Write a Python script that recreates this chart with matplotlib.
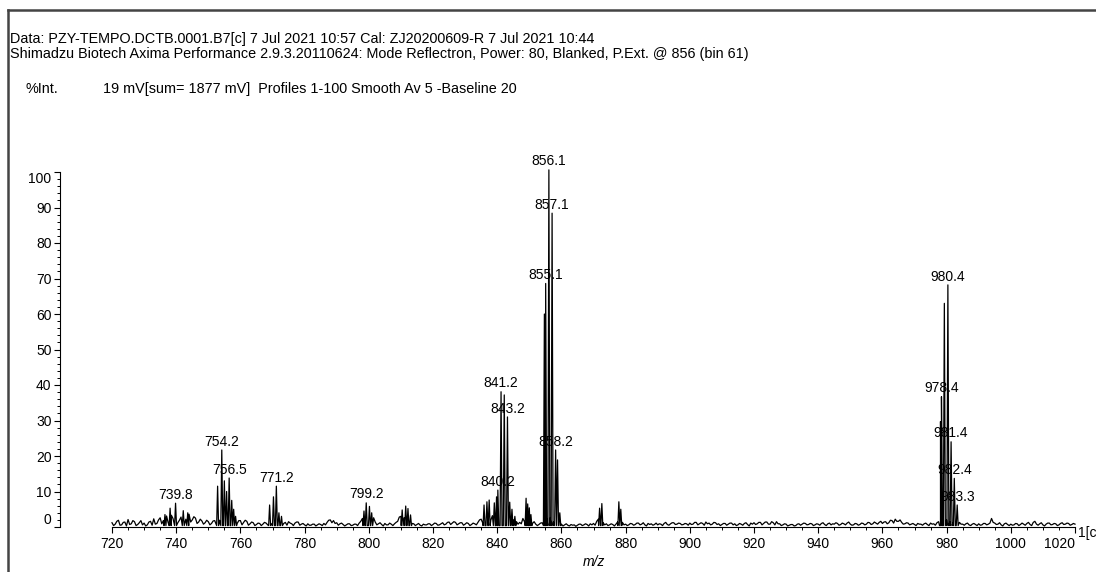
import matplotlib
matplotlib.use('Agg')
import matplotlib.pyplot as plt
from matplotlib.ticker import MultipleLocator
from matplotlib.lines import Line2D
import numpy as np

plt.rcParams['font.family'] = ['Liberation Sans', 'DejaVu Sans']
plt.rcParams['font.size'] = 10

# baseline noise, every 0.5 Da from 720 to 1020 (%Int.), one row per 10 Da
base_mz = np.arange(720, 1020.5, 0.5)
base_int = np.array([
    1.2, 0.4, 0.8, 1.6, 1.9, 0.5, 0.6, 1.3, 1.4, 0.3, 2.1, 0.7, 0.9, 1.8, 1.5, 0.4, 0.7, 1.2, 1.8, 0.6,  # 720
    1.1, 0.3, 0.6, 1.4, 1.6, 0.5, 2.3, 0.8, 1.0, 2.0, 2.6, 0.9, 1.8, 2.7, 3.1, 1.2, 2.0, 3.3, 2.4, 1.1,  # 730
    3.0, 1.2, 1.9, 2.8, 3.4, 1.5, 2.2, 3.9, 3.6, 1.4, 2.0, 2.9, 2.5, 1.0, 1.4, 2.2, 1.7, 0.8, 1.2, 1.9,  # 740
    1.5, 0.6, 1.0, 1.7, 1.8, 0.7, 1.3, 1.9, 1.1, 0.8, 1.4, 2.0, 1.6, 0.9, 1.9, 2.4, 1.4, 0.7, 1.0, 1.8,  # 750
    1.8, 0.6, 1.3, 1.9, 1.6, 0.5, 0.9, 1.4, 1.2, 0.4, 0.7, 1.1, 1.0, 0.4, 0.8, 1.3, 1.1, 0.6, 1.6, 1.0,  # 760
    1.4, 0.6, 1.2, 2.1, 2.0, 0.8, 1.7, 1.0, 1.3, 0.5, 1.5, 1.1, 0.9, 0.4, 1.1, 1.4, 1.4, 0.5, 0.8, 1.0,  # 770
    0.6, 0.3, 0.9, 0.5, 0.5, 0.8, 0.8, 0.3, 0.6, 0.9, 0.7, 0.4, 1.0, 0.6, 1.3, 1.9, 2.0, 1.2, 1.8, 1.0,  # 780
    1.2, 0.5, 0.9, 1.1, 0.7, 0.3, 0.6, 0.9, 0.9, 0.4, 0.5, 0.8, 0.8, 0.4, 1.1, 1.6, 2.4, 1.7, 3.0, 2.2,  # 790
    2.8, 1.5, 2.1, 2.6, 1.4, 0.6, 0.9, 1.2, 0.7, 0.3, 1.0, 0.6, 0.6, 1.1, 0.8, 0.4, 0.9, 1.3, 1.6, 2.8,  # 800
    3.0, 2.1, 2.6, 3.4, 2.8, 1.9, 1.7, 1.0, 0.9, 0.4, 0.7, 1.0, 0.5, 0.3, 0.8, 0.6, 0.6, 0.9, 0.9, 0.4,  # 810
    0.7, 1.1, 1.0, 0.5, 0.6, 0.9, 1.2, 0.6, 0.8, 1.3, 1.4, 0.7, 1.1, 1.5, 1.3, 0.6, 0.9, 1.2, 1.2, 0.5,  # 820
    0.8, 1.2, 1.0, 0.4, 0.7, 1.1, 0.9, 0.6, 1.3, 2.0, 2.2, 1.1, 3.0, 3.8, 2.5, 1.6, 1.9, 3.2, 2.8, 1.4,  # 830
    2.0, 3.5, 3.0, 2.1, 2.5, 3.4, 2.2, 1.5, 2.9, 2.4, 2.0, 1.2, 1.5, 0.8, 1.3, 0.9, 2.4, 1.5, 3.0, 2.1,  # 840
    1.6, 0.9, 1.0, 1.5, 0.8, 0.4, 0.7, 1.1, 1.2, 1.8, 1.5, 2.2, 1.8, 2.5, 2.0, 1.4, 1.5, 0.9, 1.2, 0.6,  # 850
    0.8, 0.3, 0.6, 0.9, 0.5, 0.3, 0.7, 0.5, 0.6, 0.2, 0.5, 0.8, 0.8, 0.4, 0.6, 0.9, 0.7, 0.3, 0.9, 0.6,  # 860
    1.0, 0.5, 1.6, 2.2, 1.4, 0.8, 1.2, 0.6, 0.9, 0.4, 0.6, 0.9, 0.7, 0.3, 0.8, 1.4, 1.5, 2.3, 1.3, 0.6,  # 870
    0.8, 0.4, 0.6, 1.0, 0.9, 0.5, 0.7, 1.1, 1.1, 0.6, 0.8, 1.2, 0.6, 0.3, 1.0, 0.7, 0.9, 0.5, 0.7, 1.1,  # 880
    0.6, 0.9, 0.8, 0.4, 1.0, 1.3, 0.7, 0.5, 0.9, 1.2, 1.2, 0.7, 0.8, 1.1, 1.0, 0.6, 0.7, 1.0, 0.9, 0.5,  # 890
    1.1, 0.7, 0.8, 1.3, 1.3, 0.6, 0.9, 1.2, 1.0, 0.5, 1.4, 0.9, 1.1, 0.6, 0.8, 1.3, 1.2, 0.7, 0.9, 0.4,  # 900
    0.7, 1.0, 1.0, 0.5, 0.8, 1.1, 1.1, 0.6, 0.9, 0.4, 0.6, 1.0, 0.8, 0.5, 1.0, 1.2, 0.7, 0.3, 1.1, 0.8,  # 910
    1.2, 0.7, 0.9, 1.3, 1.3, 0.6, 1.0, 1.4, 1.4, 0.8, 0.8, 1.5, 1.2, 0.6, 1.5, 0.9, 0.9, 0.4, 0.6, 0.9,  # 920
    0.8, 0.3, 0.5, 0.7, 0.7, 0.3, 0.4, 0.8, 0.9, 0.5, 0.8, 1.1, 1.0, 0.6, 0.7, 1.0, 0.9, 0.4, 0.6, 0.9,  # 930
    0.8, 0.5, 1.0, 1.2, 0.7, 0.4, 0.9, 1.1, 0.6, 0.9, 0.8, 1.2, 1.0, 0.5, 0.7, 1.1, 0.9, 0.6, 1.1, 1.4,  # 940
    0.8, 0.5, 0.6, 1.0, 0.9, 0.5, 0.7, 1.1, 1.0, 0.6, 0.8, 1.3, 1.2, 0.7, 0.9, 1.4, 1.1, 0.8, 1.3, 1.6,  # 950
    1.0, 1.4, 1.5, 0.9, 1.2, 1.9, 1.8, 1.1, 2.2, 1.6, 1.6, 2.0, 1.3, 0.8, 0.9, 1.2, 1.1, 0.6, 0.8, 1.0,  # 960
    0.7, 0.4, 1.0, 0.8, 0.8, 0.5, 0.9, 1.1, 0.7, 0.4, 1.1, 0.8, 0.9, 0.5, 1.2, 1.5, 1.5, 0.9, 2.0, 1.4,  # 970
    2.0, 1.3, 1.5, 0.9, 1.2, 0.7, 1.0, 1.4, 1.3, 0.8, 0.8, 0.5, 0.9, 1.1, 0.6, 0.4, 0.8, 1.0, 0.7, 0.4,  # 980
    0.9, 0.5, 0.6, 1.0, 1.0, 0.6, 0.8, 1.1, 2.4, 1.3, 1.1, 0.7, 0.8, 1.2, 0.6, 0.3, 0.9, 1.1, 0.7, 0.4,  # 990
    0.8, 0.5, 0.6, 1.0, 0.9, 0.4, 0.7, 1.1, 0.8, 0.5, 1.0, 1.3, 0.7, 0.4, 1.3, 1.6, 0.8, 0.5, 0.9, 1.2,  # 1000
    0.6, 0.3, 0.8, 1.1, 1.1, 0.6, 0.7, 1.0, 0.9, 0.4, 0.6, 1.0, 1.2, 0.7, 0.8, 1.1, 1.0, 0.5, 0.7, 1.0,  # 1010
    0.8,
])

# labelled peaks
lab_mz = [739.8, 754.2, 756.5, 771.2, 799.2, 840.2, 841.2, 843.2,
          855.1, 856.1, 857.1, 858.2, 978.4, 980.4, 981.4, 982.4, 983.3]
lab_int = [6.7, 21.7, 13.8, 11.5, 6.8, 10.4, 38.1, 31.0,
           68.6, 100.6, 88.4, 21.7, 36.7, 68.2, 24.0, 13.7, 6.2]

# other peaks in the clusters
pk_mz = [736.5, 738.1, 742.2, 743.6,
         752.9, 755.0, 755.7, 757.3, 757.9, 758.5,
         769.1, 770.3, 772.0, 772.8,
         798.5, 800.2, 800.9,
         810.4, 811.5, 812.2, 813.0,
         835.9, 836.8, 837.5, 839.1, 839.8,
         842.2, 843.9, 844.6, 845.5,
         849.0, 849.5, 850.0, 850.5,
         854.7, 858.8, 859.5,
         871.9, 872.6, 877.9, 878.5,
         978.1, 979.3]
pk_int = [3.5, 5.3, 4.6, 4.0,
          11.5, 13.0, 10.0, 7.5, 5.0, 3.0,
          6.2, 8.5, 4.0, 3.0,
          4.5, 5.8, 4.0,
          4.8, 5.9, 5.2, 3.4,
          6.2, 7.1, 7.6, 6.8, 8.5,
          37.2, 7.0, 5.0, 3.0,
          8.1, 6.5, 5.4, 3.5,
          60.0, 18.9, 4.0,
          5.3, 6.6, 7.1, 5.0,
          29.7, 63.0]

# build the profile: each peak is a narrow spike standing on the noise
hw = 0.3
all_mz = np.array(lab_mz + pk_mz)
all_int = np.array(lab_int + pk_int)
keep = np.array([np.min(np.abs(all_mz - m)) > hw for m in base_mz])
px = list(base_mz[keep])
py = list(base_int[keep])
for m, h in zip(all_mz, all_int):
    px += [m - hw, m, m + hw]
    py += [0.4, h, 0.4]
order = np.argsort(px)
px = np.array(px)[order]
py = np.array(py)[order]

fig = plt.figure(figsize=(10.96, 5.72), dpi=100)
W, H = 1096, 572
ax = fig.add_axes([112 / W, 45 / H, 963 / W, 355 / H])

ax.plot(px, py, color='black', lw=0.9, zorder=3, clip_on=False)

for m, h in zip(lab_mz, lab_int):
    ax.annotate(f'{m:.1f}', (m, h), xytext=(0, 1), textcoords='offset points',
                ha='center', va='bottom', fontsize=10, zorder=2,
                annotation_clip=False)

ax.set_xlim(720, 1020)
ax.set_ylim(0, 100)
for s in ['top', 'right']:
    ax.spines[s].set_visible(False)
ax.spines['left'].set_position(('outward', 37.5))
ax.spines['left'].set_linewidth(0.8)
ax.spines['bottom'].set_linewidth(0.8)

ax.set_xticks(np.arange(720, 1021, 20))
ax.set_yticks(np.arange(0, 101, 10))
ax.xaxis.set_minor_locator(MultipleLocator(5))
ax.yaxis.set_minor_locator(MultipleLocator(2))
ax.tick_params(axis='both', which='major', length=4, width=0.8, labelsize=10)
ax.tick_params(axis='both', which='minor', length=2, width=0.7)
ax.tick_params(axis='x', pad=3)
ax.tick_params(axis='y', pad=2)

# end labels are kept inside the axis span
for t in ax.get_yticklabels():
    if t.get_text() == '0':
        t.set_va('bottom')
    elif t.get_text() == '100':
        t.set_va('top')
for t in ax.get_xticklabels():
    if t.get_text() == '1020':
        t.set_ha('right')

ax.set_xlabel('m/z', style='italic', fontsize=10, labelpad=3)

# header lines
fig.text(10 / W, 1 - 39 / H,
         'Data: PZY-TEMPO.DCTB.0001.B7[c] 7 Jul 2021 10:57 Cal: ZJ20200609-R 7 Jul 2021 10:44',
         va='center', ha='left', fontsize=10.4)
fig.text(10 / W, 1 - 54 / H,
         'Shimadzu Biotech Axima Performance 2.9.3.20110624: Mode Reflectron, Power: 80, Blanked, P.Ext. @ 856 (bin 61)',
         va='center', ha='left', fontsize=10.4)
fig.text(25 / W, 1 - 89 / H, '%Int.', va='center', ha='left', fontsize=10.4)
fig.text(103 / W, 1 - 89 / H,
         '19 mV[sum= 1877 mV]  Profiles 1-100 Smooth Av 5 -Baseline 20',
         va='center', ha='left', fontsize=10.4)
fig.text(1078 / W, 1 - 533 / H, '1[c]', va='center', ha='left', fontsize=10)

# report frame
fig.add_artist(Line2D([7.5 / W, 7.5 / W], [-0.05, 1 - 10 / H],
                      transform=fig.transFigure, color='#444444', lw=1.8))
fig.add_artist(Line2D([7.5 / W, 1.05], [1 - 10 / H, 1 - 10 / H],
                      transform=fig.transFigure, color='#444444', lw=1.8))

fig.savefig('out.png', dpi=100)
